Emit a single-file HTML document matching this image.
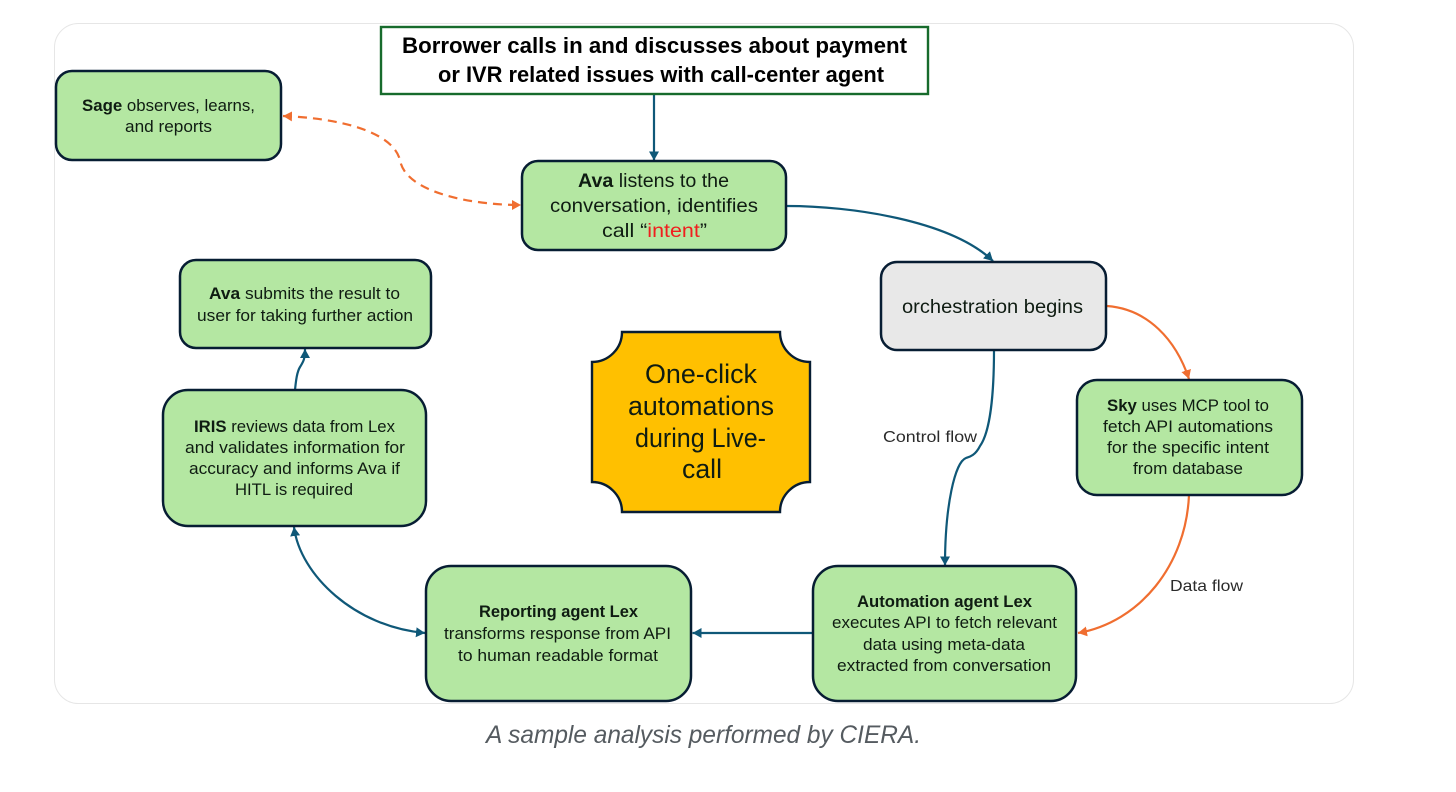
<!DOCTYPE html>
<html>
<head>
<meta charset="utf-8">
<style>
html,body{margin:0;padding:0;background:#fff;width:1456px;height:792px;overflow:hidden}
svg{display:block}
text{font-family:"Liberation Sans",sans-serif;fill:#0f1c12;text-anchor:middle}
.s{font-size:16.5px}
.m{font-size:19.5px}
.b{font-weight:700}
.box{fill:#b4e7a2;stroke:#071d33;stroke-width:2.5}
.blue{fill:none;stroke:#0f5878;stroke-width:2.2}
.org{fill:none;stroke:#f06e30;stroke-width:2.2}
.soft{filter:blur(0.3px)}
</style>
</head>
<body>
<svg width="1456" height="792" viewBox="0 0 1456 792" xmlns="http://www.w3.org/2000/svg">
<defs>
<marker id="ab" markerUnits="userSpaceOnUse" markerWidth="12" markerHeight="12" refX="9" refY="5" orient="auto-start-reverse"><path d="M0,0 L9,5 L0,10 Z" fill="#0f5878"/></marker>
<marker id="ao" markerUnits="userSpaceOnUse" markerWidth="12" markerHeight="12" refX="9" refY="5" orient="auto-start-reverse"><path d="M0,0 L9,5 L0,10 Z" fill="#f06e30"/></marker>
</defs>

<rect x="54.5" y="23.5" width="1299" height="680" rx="24" fill="#fff" stroke="#e6e6e6" stroke-width="1"/>

<g class="soft">
<!-- connectors -->
<path class="blue" d="M654,94 L654,160.5" marker-end="url(#ab)"/>
<path class="blue" d="M787,206 C850,206 950,220 993,261" marker-end="url(#ab)"/>
<path class="org" d="M1107,306 C1148,309 1176,340 1189,379" marker-end="url(#ao)"/>
<path class="blue" d="M994,350 C994,395 990,432 980,446 C975,456 969,457 966,458 C955,462 945,505 945,565.5" marker-end="url(#ab)"/>
<path class="org" d="M1189,495 C1186,565 1140,622 1078,633" marker-end="url(#ao)"/>
<path class="blue" d="M813,633 L692.5,633" marker-end="url(#ab)"/>
<path class="blue" d="M294,527 C300,575 355,627 425,633" marker-start="url(#ab)" marker-end="url(#ab)"/>
<path class="blue" d="M295,390 C296,380 297,372 300,367 C303,362 305,360 305,349" marker-end="url(#ab)"/>
<path class="org" stroke-dasharray="9 6" d="M283,116 C335,118 392,130 400,160 C405,192 470,205 521,205" marker-start="url(#ao)" marker-end="url(#ao)"/>

<!-- top box -->
<rect x="381" y="27" width="547" height="67" fill="#fff" stroke="#176b2c" stroke-width="2.4"/>
<text class="b" style="font-size:22px;fill:#000" x="654.5" y="53" textLength="505" lengthAdjust="spacingAndGlyphs">Borrower calls in and discusses about payment</text>
<text class="b" style="font-size:22px;fill:#000" x="661" y="82" textLength="446" lengthAdjust="spacingAndGlyphs">or IVR related issues with call-center agent</text>

<!-- Sage -->
<rect class="box" x="56" y="71" width="225" height="89" rx="16"/>
<text class="s" x="168.5" y="111" textLength="173" lengthAdjust="spacingAndGlyphs"><tspan class="b">Sage</tspan> observes, learns,</text>
<text class="s" x="168.5" y="132" textLength="87" lengthAdjust="spacingAndGlyphs">and reports</text>

<!-- Ava -->
<rect class="box" x="522" y="161" width="264" height="89" rx="16"/>
<text class="m" x="653.5" y="187" textLength="151" lengthAdjust="spacingAndGlyphs"><tspan class="b">Ava</tspan> listens to the</text>
<text class="m" x="654" y="212" textLength="208" lengthAdjust="spacingAndGlyphs">conversation, identifies</text>
<text class="m" x="654.5" y="237" textLength="105" lengthAdjust="spacingAndGlyphs">call “<tspan style="fill:#f01e1e">intent</tspan>”</text>

<!-- orchestration -->
<rect x="881" y="262" width="225" height="88" rx="16" fill="#e8e8e8" stroke="#071d33" stroke-width="2.5"/>
<text class="m" x="992.5" y="313" textLength="181" lengthAdjust="spacingAndGlyphs">orchestration begins</text>

<!-- Sky -->
<rect class="box" x="1077" y="380" width="225" height="115" rx="20"/>
<text class="s" x="1188" y="411" textLength="162" lengthAdjust="spacingAndGlyphs"><tspan class="b">Sky</tspan> uses MCP tool to</text>
<text class="s" x="1188" y="432" textLength="170" lengthAdjust="spacingAndGlyphs">fetch API automations</text>
<text class="s" x="1188" y="453" textLength="162" lengthAdjust="spacingAndGlyphs">for the specific intent</text>
<text class="s" x="1188" y="474" textLength="110" lengthAdjust="spacingAndGlyphs">from database</text>

<!-- Automation -->
<rect class="box" x="813" y="566" width="263" height="135" rx="25"/>
<text class="s b" x="944.5" y="607" textLength="175" lengthAdjust="spacingAndGlyphs">Automation agent Lex</text>
<text class="s" x="944.5" y="628" textLength="225" lengthAdjust="spacingAndGlyphs">executes API to fetch relevant</text>
<text class="s" x="944" y="650" textLength="162" lengthAdjust="spacingAndGlyphs">data using meta-data</text>
<text class="s" x="944" y="671" textLength="214" lengthAdjust="spacingAndGlyphs">extracted from conversation</text>

<!-- Reporting -->
<rect class="box" x="426" y="566" width="265" height="135" rx="25"/>
<text class="s b" x="558.5" y="617" textLength="159" lengthAdjust="spacingAndGlyphs">Reporting agent Lex</text>
<text class="s" x="557.5" y="639" textLength="227" lengthAdjust="spacingAndGlyphs">transforms response from API</text>
<text class="s" x="558" y="661" textLength="200" lengthAdjust="spacingAndGlyphs">to human readable format</text>

<!-- IRIS -->
<rect class="box" x="163" y="390" width="263" height="136" rx="25"/>
<text class="s" x="294.5" y="432" textLength="201" lengthAdjust="spacingAndGlyphs"><tspan class="b">IRIS</tspan> reviews data from Lex</text>
<text class="s" x="295" y="453" textLength="220" lengthAdjust="spacingAndGlyphs">and validates information for</text>
<text class="s" x="294.5" y="474" textLength="211" lengthAdjust="spacingAndGlyphs">accuracy and informs Ava if</text>
<text class="s" x="294" y="495" textLength="118" lengthAdjust="spacingAndGlyphs">HITL is required</text>

<!-- Ava submits -->
<rect class="box" x="180" y="260" width="251" height="88" rx="16"/>
<text class="s" x="304.5" y="299" textLength="191" lengthAdjust="spacingAndGlyphs"><tspan class="b">Ava</tspan> submits the result to</text>
<text class="s" x="305" y="321" textLength="216" lengthAdjust="spacingAndGlyphs">user for taking further action</text>

<!-- One-click plaque -->
<path d="M622,332 L780,332 A30,30 0 0 0 810,362 L810,482 A30,30 0 0 0 780,512 L622,512 A30,30 0 0 0 592,482 L592,362 A30,30 0 0 0 622,332 Z" fill="#ffc000" stroke="#071d33" stroke-width="2.4"/>
<text style="font-size:27px" x="701" y="383" textLength="112" lengthAdjust="spacingAndGlyphs">One-click</text>
<text style="font-size:27px" x="701" y="415" textLength="146" lengthAdjust="spacingAndGlyphs">automations</text>
<text style="font-size:27px" x="700.5" y="447" textLength="131" lengthAdjust="spacingAndGlyphs">during Live-</text>
<text style="font-size:27px" x="702" y="478" textLength="40" lengthAdjust="spacingAndGlyphs">call</text>

<!-- labels -->
<text style="font-size:16px;fill:#2b2b2b" x="930" y="442" textLength="94" lengthAdjust="spacingAndGlyphs">Control flow</text>
<text style="font-size:16px;fill:#2b2b2b" x="1206.5" y="591" textLength="73" lengthAdjust="spacingAndGlyphs">Data flow</text>
</g>

<!-- caption -->
<text style="font-size:25px;font-style:italic;fill:#555b60" x="703.5" y="743" textLength="435" lengthAdjust="spacingAndGlyphs">A sample analysis performed by CIERA.</text>
</svg>
</body>
</html>
